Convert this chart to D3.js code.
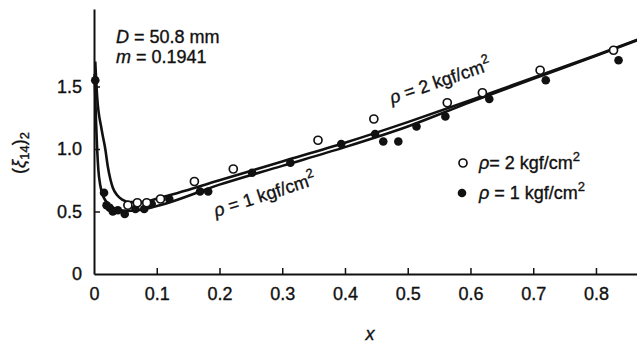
<!DOCTYPE html>
<html>
<head>
<meta charset="utf-8">
<script src="https://cdn.jsdelivr.net/npm/d3@7"></script>
<style>
  body { margin: 0; background: #fff; }
  svg { display: block; font-family: "Liberation Sans", Arial, Helvetica, sans-serif; }
  text { stroke: #111; stroke-width: 0.35px; }
</style>
</head>
<body>
<script>
// x ticks and y ticks as printed
const xTicks = [0, 0.1, 0.2, 0.3, 0.4, 0.5, 0.6, 0.7, 0.8];
const yTicks = [0, 0.5, 1.0, 1.5];

// open circles, p = 2 kgf/cm2
const open2 = [
  [0.054, 0.55], [0.069, 0.57], [0.084, 0.57], [0.106, 0.60], [0.16, 0.74],
  [0.222, 0.84], [0.357, 1.07], [0.446, 1.24], [0.563, 1.37], [0.619, 1.45],
  [0.711, 1.63], [0.828, 1.79]
];

// filled dots, p = 1 kgf/cm2
const filled1 = [
  [0.002, 1.55], [0.016, 0.65], [0.02, 0.55], [0.025, 0.53], [0.03, 0.50],
  [0.038, 0.51], [0.049, 0.48], [0.066, 0.52], [0.08, 0.52], [0.092, 0.56],
  [0.12, 0.60], [0.169, 0.66], [0.182, 0.66], [0.252, 0.81], [0.313, 0.89],
  [0.394, 1.04], [0.448, 1.12], [0.461, 1.06], [0.485, 1.06], [0.514, 1.18],
  [0.56, 1.26], [0.63, 1.40], [0.72, 1.55], [0.836, 1.71]
];

// fitted curves
const curve2 = [
  [0.002, 1.70], [0.005, 1.42], [0.012, 1.16], [0.018, 1.0], [0.022, 0.86],
  [0.026, 0.76], [0.03, 0.69], [0.037, 0.63], [0.045, 0.595], [0.057, 0.575],
  [0.075, 0.575], [0.105, 0.61], [0.2, 0.75], [0.3, 0.90], [0.4, 1.05],
  [0.5, 1.215], [0.6, 1.39], [0.7, 1.57], [0.8, 1.75], [0.869, 1.88]
];
const curve1 = [
  [0.001, 1.60], [0.003, 1.25], [0.005, 1.0], [0.007, 0.83], [0.01, 0.71],
  [0.014, 0.63], [0.018, 0.59], [0.025, 0.55], [0.035, 0.52], [0.05, 0.505],
  [0.07, 0.51], [0.105, 0.55], [0.2, 0.715], [0.3, 0.865], [0.4, 1.015],
  [0.5, 1.18], [0.6, 1.375], [0.7, 1.562], [0.8, 1.745], [0.869, 1.877]
];

const width = 637, height = 346;
const svg = d3.select("body").append("svg")
  .attr("width", width)
  .attr("height", height);

const x = d3.scaleLinear().domain([0, 0.8654]).range([94, 637]);
const y = d3.scaleLinear().domain([0, 2.12]).range([274, 9]);

// axes, ticks pointing inward
const xAxis = svg.append("g")
  .attr("transform", "translate(0,274)")
  .call(d3.axisBottom(x).tickValues(xTicks).tickSizeInner(-6).tickSizeOuter(0)
    .tickPadding(13).tickFormat(d => d === 0 ? "0" : d3.format(".1f")(d)));
const yAxis = svg.append("g")
  .attr("transform", "translate(94,0)")
  .call(d3.axisLeft(y).tickValues(yTicks).tickSizeInner(-6).tickSizeOuter(0)
    .tickPadding(12).tickFormat(d => d === 0 ? "0" : d3.format(".1f")(d)));

svg.selectAll(".domain").attr("stroke", "#111").attr("stroke-width", 2);
svg.selectAll(".tick line").attr("stroke", "#111").attr("stroke-width", 1.5);
svg.selectAll(".tick text").attr("font-size", 18).attr("fill", "#111")
  .attr("font-family", "'Liberation Sans', Arial, sans-serif");
xAxis.selectAll(".tick").filter(d => d === 0).select("line").remove();
yAxis.selectAll(".tick").filter(d => d === 0).select("line").remove();

// curves
const line = d3.line().x(d => x(d[0])).y(d => y(d[1])).curve(d3.curveMonotoneX);
svg.append("path").datum(curve1)
  .attr("d", line).attr("fill", "none").attr("stroke", "#111").attr("stroke-width", 2.6);
svg.append("path").datum(curve2)
  .attr("d", line).attr("fill", "none").attr("stroke", "#111").attr("stroke-width", 2.6);

// points
svg.append("g").selectAll("circle").data(filled1).join("circle")
  .attr("cx", d => x(d[0])).attr("cy", d => y(d[1])).attr("r", 4.3)
  .attr("fill", "#111");
svg.append("g").selectAll("circle").data(open2).join("circle")
  .attr("cx", d => x(d[0])).attr("cy", d => y(d[1])).attr("r", 4)
  .attr("fill", "#fff").attr("stroke", "#111").attr("stroke-width", 1.7);

// text helper: italic symbol + rest + superscript 2
function pressure(g, sym, rest) {
  g.append("tspan").attr("font-style", "italic").text(sym);
  g.append("tspan").text(rest);
  g.append("tspan").attr("font-size", 13).attr("dy", -8).text("2");
}

const t1 = svg.append("text").attr("font-size", 18).attr("fill", "#111")
  .attr("transform", "translate(392,104) rotate(-19)");
pressure(t1, "ρ", " = 2 kgf/cm");
const t2 = svg.append("text").attr("font-size", 18).attr("fill", "#111")
  .attr("transform", "translate(216,217) rotate(-18)");
pressure(t2, "ρ", " = 1 kgf/cm");

// parameters
const par = svg.append("g").attr("font-size", 18).attr("fill", "#111");
const p1 = par.append("text").attr("x", 116).attr("y", 43);
p1.append("tspan").attr("font-style", "italic").text("D");
p1.append("tspan").text(" = 50.8 mm");
const p2 = par.append("text").attr("x", 116).attr("y", 63);
p2.append("tspan").attr("font-style", "italic").text("m");
p2.append("tspan").text(" = 0.1941");

// legend
svg.append("circle").attr("cx", 463).attr("cy", 163).attr("r", 4)
  .attr("fill", "#fff").attr("stroke", "#111").attr("stroke-width", 1.7);
svg.append("circle").attr("cx", 462).attr("cy", 193).attr("r", 4.3).attr("fill", "#111");
const l1 = svg.append("text").attr("x", 479).attr("y", 169).attr("font-size", 18).attr("fill", "#111");
pressure(l1, "ρ", "= 2 kgf/cm");
const l2 = svg.append("text").attr("x", 479).attr("y", 199).attr("font-size", 18).attr("fill", "#111");
pressure(l2, "ρ", " = 1 kgf/cm");

// axis titles
svg.append("text").attr("x", 370).attr("y", 340).attr("text-anchor", "middle")
  .attr("font-size", 18).attr("font-style", "italic").attr("fill", "#111").text("x");

const yl = svg.append("text").attr("font-size", 18).attr("fill", "#111")
  .attr("text-anchor", "middle")
  .attr("transform", "translate(25,153) rotate(-90)");
yl.append("tspan").text("(");
yl.append("tspan").attr("font-style", "italic").text("ξ");
yl.append("tspan").attr("font-size", 13).attr("dy", 4).text("14");
yl.append("tspan").attr("dy", -4).text(")");
yl.append("tspan").attr("font-size", 13).attr("dy", 4).text("2");
</script>
</body>
</html>
